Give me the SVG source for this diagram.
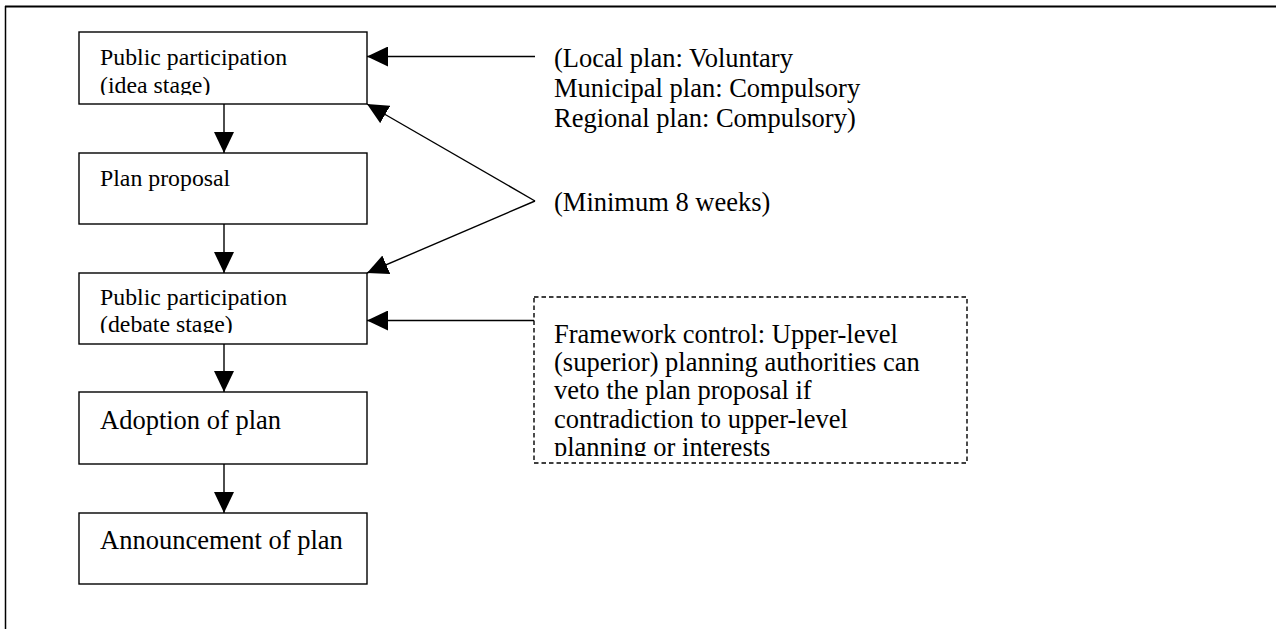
<svg xmlns="http://www.w3.org/2000/svg" width="1276" height="629" viewBox="0 0 1276 629">
<style>
.box{fill:#fff;stroke:#000;stroke-width:1.4}
.dash{fill:none;stroke:#000;stroke-width:1.4;stroke-dasharray:4.5 3}
.ln{fill:none;stroke:#000;stroke-width:1.4}
.t{font-family:"Liberation Serif","Times New Roman",serif;fill:#000}
.s{font-size:23.8px}
.l{font-size:26.5px}
</style>
<defs>
<marker id="ah" markerWidth="21" markerHeight="20" refX="21" refY="10" orient="auto" markerUnits="userSpaceOnUse">
<path d="M0,0 L21,10 L0,20 Z" fill="#000"/>
</marker>
<clipPath id="c1"><rect x="79" y="32" width="288" height="63"/></clipPath>
<clipPath id="c3"><rect x="79" y="273" width="288" height="60"/></clipPath>
<clipPath id="cf"><rect x="534" y="297" width="433" height="159"/></clipPath>
</defs>
<rect width="1276" height="629" fill="#fff"/>
<g id="frame">
<line x1="5" y1="6.5" x2="1276" y2="6.5" stroke="#000" stroke-width="2"/>
<line x1="5.5" y1="6" x2="5.5" y2="629" stroke="#000" stroke-width="1.5"/>
</g>
<g id="connectors">
<line class="ln" x1="224" y1="104" x2="224" y2="153" marker-end="url(#ah)"/>
<line class="ln" x1="224" y1="224" x2="224" y2="273" marker-end="url(#ah)"/>
<line class="ln" x1="224" y1="344" x2="224" y2="392" marker-end="url(#ah)"/>
<line class="ln" x1="224" y1="464" x2="224" y2="513" marker-end="url(#ah)"/>
<line class="ln" x1="535" y1="56.5" x2="367" y2="56.5" marker-end="url(#ah)"/>
<line class="ln" x1="535" y1="201" x2="367" y2="104" marker-end="url(#ah)"/>
<line class="ln" x1="535" y1="201" x2="367" y2="273" marker-end="url(#ah)"/>
<line class="ln" x1="534" y1="320.5" x2="367" y2="320.5" marker-end="url(#ah)"/>
</g>
<g id="n1">
<rect class="box" x="79" y="32" width="288" height="72"/>
<g clip-path="url(#c1)">
<text class="t s" x="100" y="65">Public participation</text>
<text class="t s" x="100" y="92.5">(idea stage)</text>
</g>
</g>
<g id="n2">
<rect class="box" x="79" y="153" width="288" height="71"/>
<text class="t s" x="100" y="185.5">Plan proposal</text>
</g>
<g id="n3">
<rect class="box" x="79" y="273" width="288" height="71"/>
<g clip-path="url(#c3)">
<text class="t s" x="100" y="305">Public participation</text>
<text class="t s" x="100" y="332">(debate stage)</text>
</g>
</g>
<g id="n4">
<rect class="box" x="79" y="392" width="288" height="72"/>
<text class="t l" x="100" y="428.5">Adoption of plan</text>
</g>
<g id="n5">
<rect class="box" x="79" y="513" width="288" height="71"/>
<text class="t l" x="100" y="548.5">Announcement of plan</text>
</g>
<g id="note-participation">
<text class="t l" x="554" y="66.7">(Local plan: Voluntary</text>
<text class="t l" x="554" y="96.7">Municipal plan: Compulsory</text>
<text class="t l" x="554" y="126.7">Regional plan: Compulsory)</text>
</g>
<g id="note-weeks">
<text class="t l" x="554" y="211">(Minimum 8 weeks)</text>
</g>
<g id="note-framework">
<rect class="dash" x="534" y="297" width="433" height="166"/>
<g clip-path="url(#cf)">
<text class="t l" x="554" y="343">Framework control: Upper-level</text>
<text class="t l" x="554" y="371.2">(superior) planning authorities can</text>
<text class="t l" x="554" y="399.4">veto the plan proposal if</text>
<text class="t l" x="554" y="427.6">contradiction to upper-level</text>
<text class="t l" x="554" y="455.8">planning or interests</text>
</g>
</g>
</svg>
